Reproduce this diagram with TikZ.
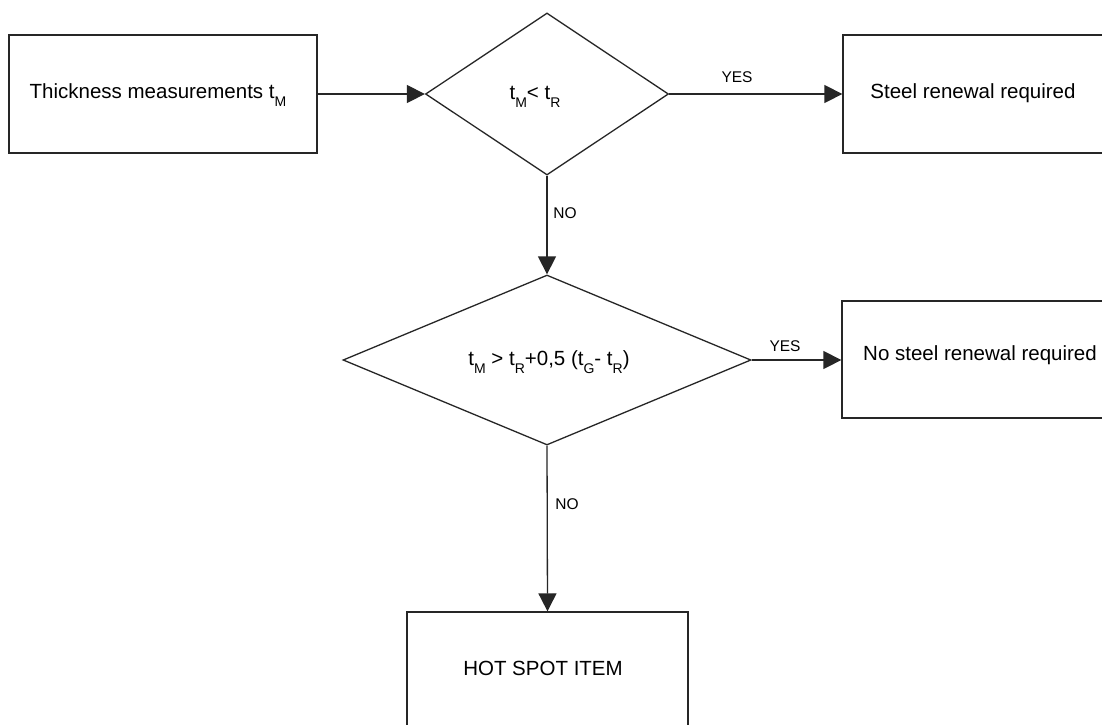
\documentclass[tikz,border=0pt]{standalone}
\usepackage{fontspec}
\setmainfont{Liberation Sans}
\usetikzlibrary{shapes.geometric,arrows.meta}
\newcommand\sbx[1]{\raisebox{-0.4em}{\fontsize{14}{14}\selectfont #1}}
\begin{document}
\begin{tikzpicture}[x=1pt,y=-1pt,
  lineclr/.style={draw=black!85, line width=1.3pt},
  boxnode/.style={lineclr, rectangle, inner sep=0pt, font=\fontsize{20.5}{25}\selectfont},
  dianode/.style={lineclr, diamond, inner sep=0pt, aspect=1.5},
  txt/.style={inner sep=0pt, font=\fontsize{20.5}{25}\selectfont},
  lbl/.style={inner sep=0pt, font=\fontsize{15.5}{18}\selectfont},
  conn/.style={lineclr, -{Triangle[length=18pt,width=18pt]}}]
\useasboundingbox (0,0) rectangle (1102,724);
\fill[white] (0,0) rectangle (1102,724);
\clip (0,0) rectangle (1102,724);
% boxes
\node[boxnode, minimum width=308pt, minimum height=118pt] (b1) at (163,94) {};
\node[txt] (b1t) at (158,95) {Thickness measurements t\sbx{M}};
\node[boxnode, minimum width=260pt, minimum height=118pt] (b2) at (973,94) {};
\node[txt] (b2t) at (973,93) {Steel renewal required};
\node[boxnode, minimum width=276pt, minimum height=117pt] (b3) at (980,359.5) {};
\node[txt] (b3t) at (980,355) {No steel renewal required};
\node[boxnode, minimum width=281pt, minimum height=117pt] (b4) at (547.5,670.5) {};
\node[txt] (b4t) at (543,668) {HOT SPOT ITEM};
% diamonds
\node[dianode, minimum width=243pt, minimum height=162pt] (d1) at (547,94) {};
\node[txt] (d1t) at (535,97) {t\sbx{M}< t\sbx{R}};
\node[dianode, minimum width=408pt, minimum height=170pt] (d2) at (547,360) {};
\node[txt] (d2t) at (549,362) {t\sbx{M} > t\sbx{R}+0,5 (t\sbx{G}- t\sbx{R})};
% connectors
\draw[conn] (b1.east) -- (d1.west);
\draw[conn] (d1.east) -- (d1.east -| b2.west);
\draw[conn] (d1.south) -- (d2.north);
\draw[conn] (d2.east) -- (d2.east -| b3.west);
\draw[conn] (d2.south) -- (b4.north);
% labels
\node[lbl] (yes1) at (737,77) {YES};
\node[lbl] (no1) at (565,213) {NO};
\node[lbl] (yes2) at (785,346) {YES};
\node[lbl] (no2) at (567,504) {NO};
\end{tikzpicture}
\end{document}
